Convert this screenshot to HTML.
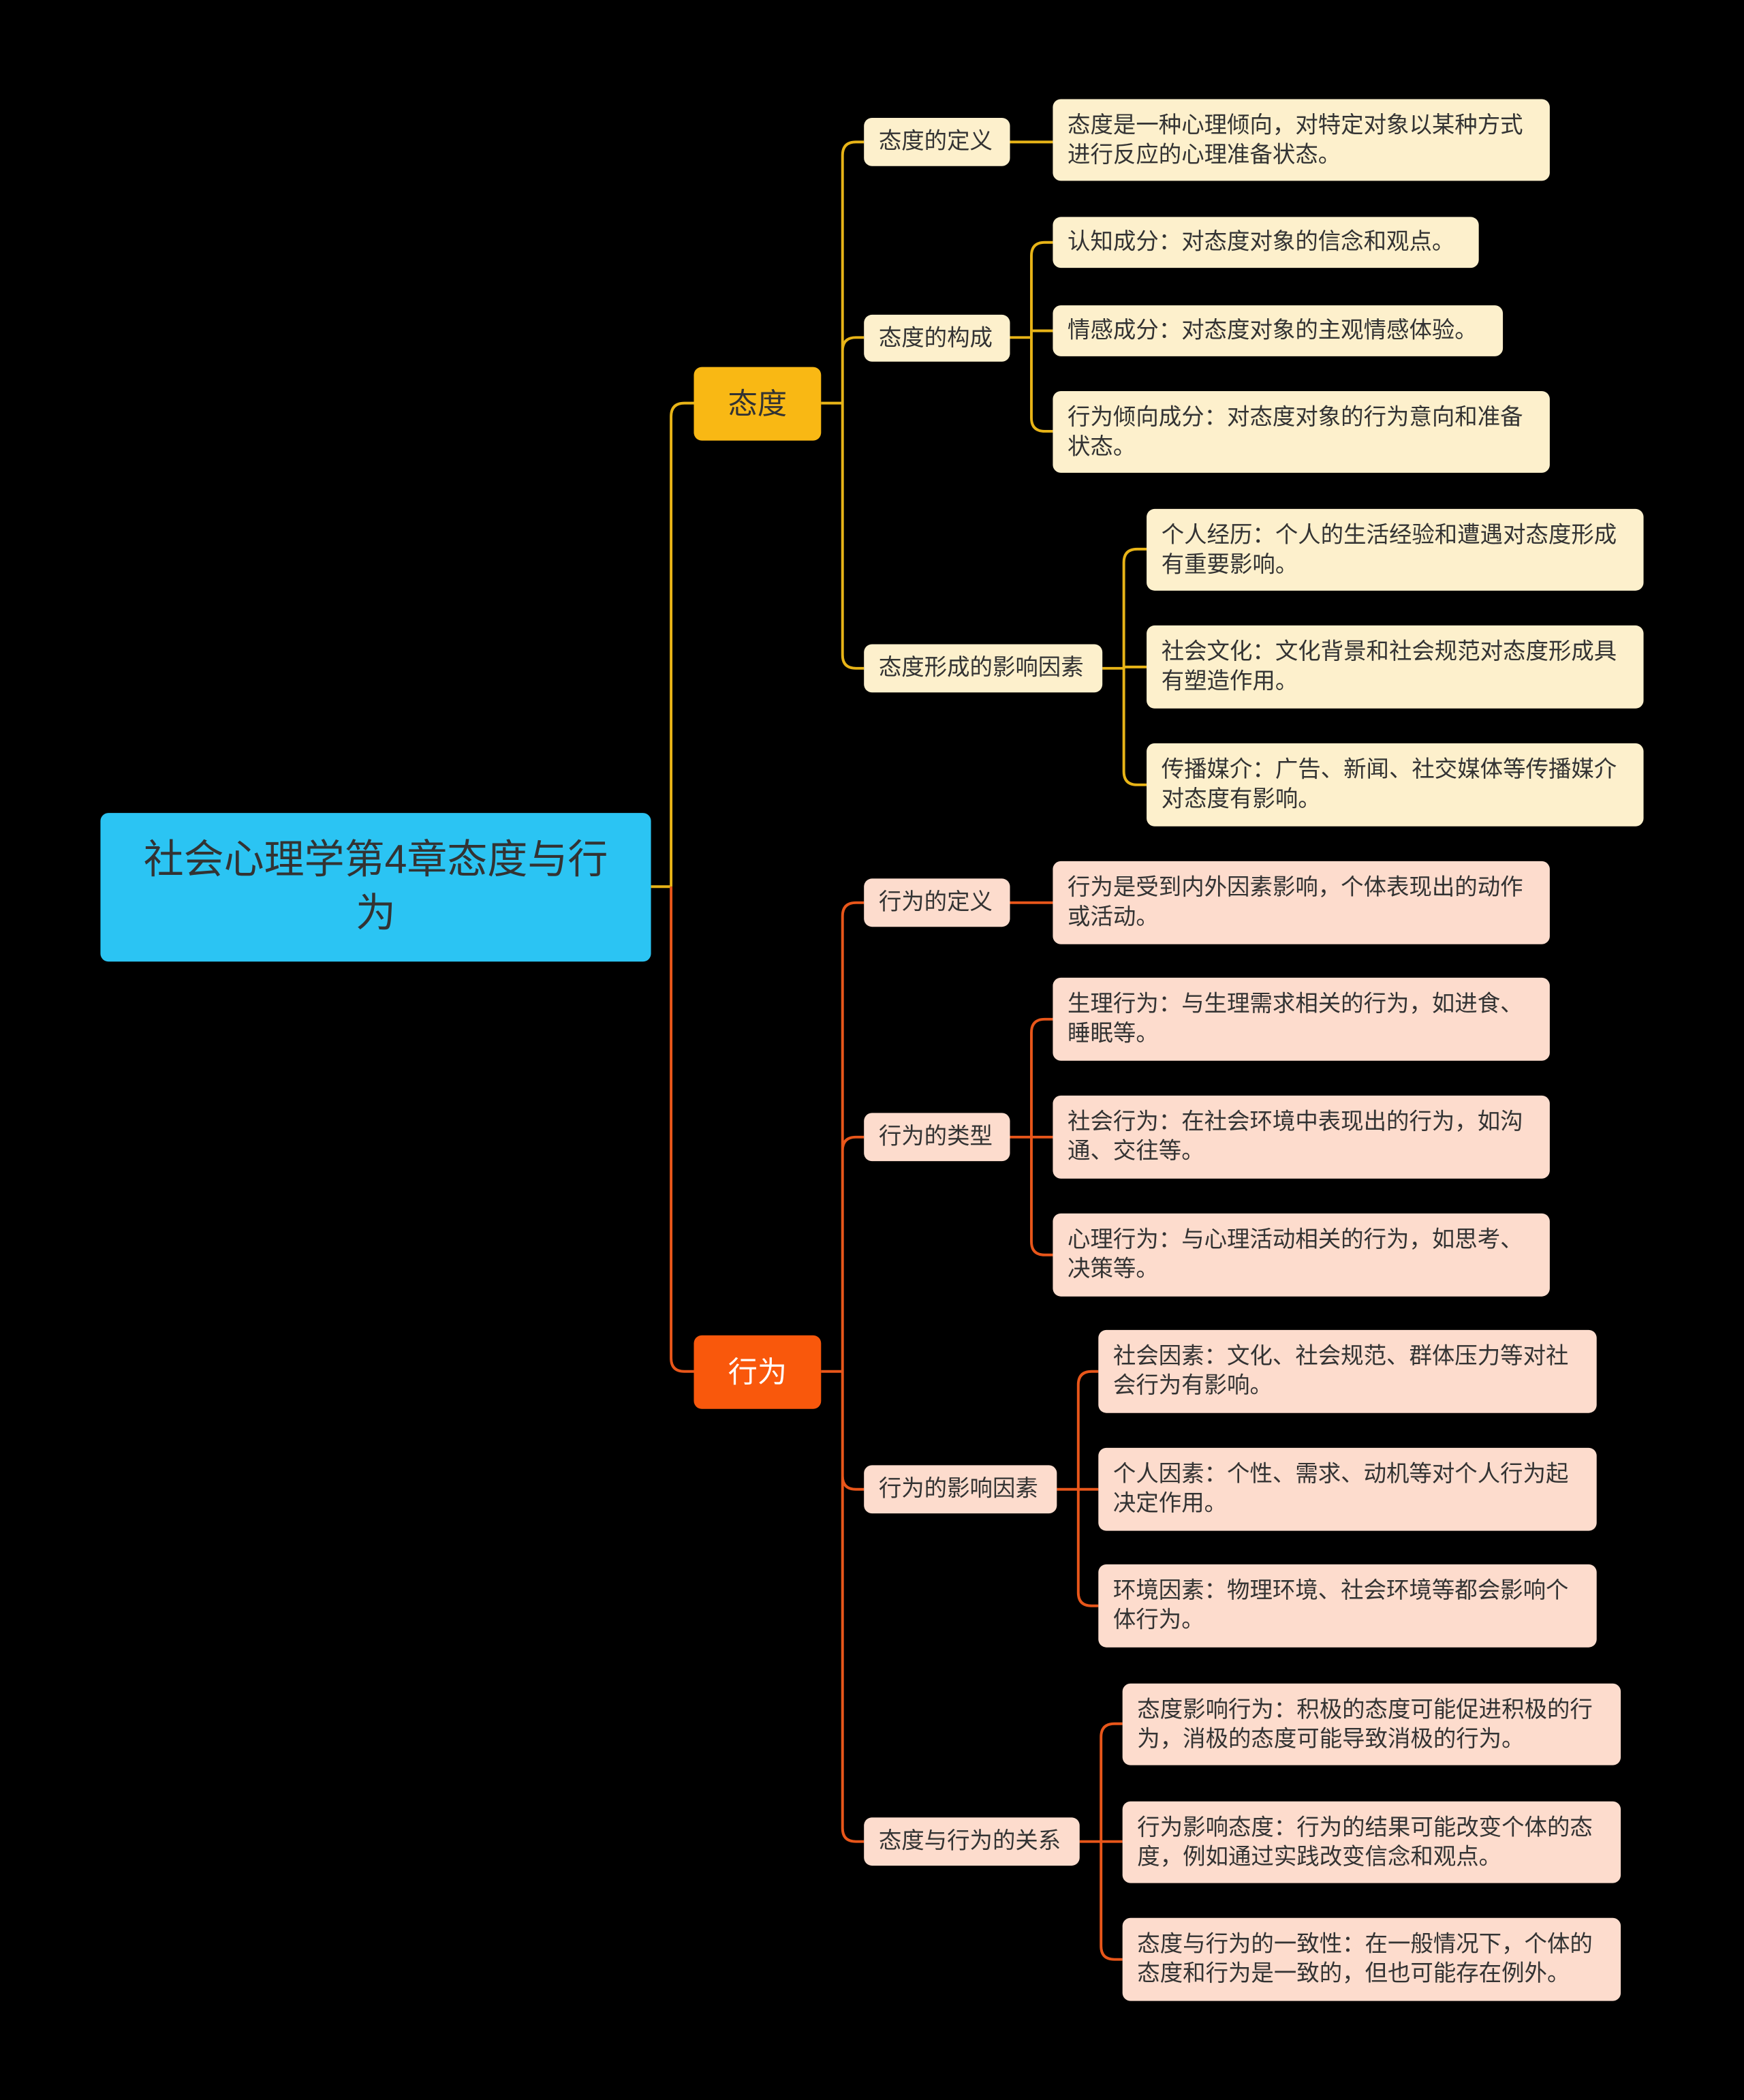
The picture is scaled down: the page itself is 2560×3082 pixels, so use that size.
<!DOCTYPE html>
<html><head><meta charset="utf-8"><style>
html,body{margin:0;padding:0;background:#000;width:2560px;height:3082px;overflow:hidden}
#w{position:absolute;left:0;top:0;width:1302px;height:1568px;transform:scale(1.9662,1.9656);transform-origin:0 0;font-family:"Liberation Sans","Noto Sans CJK SC",sans-serif}
.n{position:absolute;box-sizing:border-box;border-radius:6px;color:#333;font-size:17px;line-height:22px;display:flex;align-items:center;padding:0 11px}
.s{white-space:nowrap}
.y{background:#fdf0cc}.o{background:#fddccd}
.c{justify-content:center}
svg{position:absolute;left:0;top:0}
</style></head><body><div id="w">
<svg width="1302" height="1568" fill="none" stroke-width="2">
<g stroke="#e8b417">
<path d="M486 662H501M501 662V311Q501 301 511 301H518"/>
<path d="M613 301H629M629 301V116Q629 106 639 106H645M629 301V262Q629 252 639 252H645M629 301V489Q629 499 639 499H645"/>
<path d="M754 106H786"/>
<path d="M754 252H770M770 252V191Q770 181 780 181H786M770 252V247H786M770 252V312Q770 322 780 322H786"/>
<path d="M823 499H839M839 499V420Q839 410 849 410H856M839 499V498H856M839 499V576Q839 586 849 586H856"/>
</g>
<g stroke="#e8561a">
<path d="M501 662V1014Q501 1024 511 1024H518"/>
<path d="M613 1024H629M629 1024V684Q629 674 639 674H645M629 1024V859Q629 849 639 849H645M629 1024V1102Q629 1112 639 1112H645M629 1024V1365Q629 1375 639 1375H645"/>
<path d="M754 674H786"/>
<path d="M754 849H770M770 849V771Q770 761 780 761H786M770 849H786M770 849V927Q770 937 780 937H786"/>
<path d="M789 1112H805M805 1112V1034Q805 1024 815 1024H820M805 1112H820M805 1112V1189Q805 1199 815 1199H820"/>
<path d="M806 1375H822M822 1375V1297Q822 1287 832 1287H838M822 1375H838M822 1375V1453Q822 1463 832 1463H838"/>
</g>
</svg>
<div class="n c" style="left:75px;top:607px;width:411px;height:111px;background:#2bc4f3;font-size:30px;line-height:40px;text-align:center;border-radius:6px">社会心理学第4章态度与行<br>为</div>
<div class="n c s" style="left:518px;top:274px;width:95px;height:55px;background:#f9b814;font-size:22px">态度</div>
<div class="n c s" style="left:518px;top:997px;width:95px;height:55px;background:#f9580c;font-size:22px;color:#fff">行为</div>

<div class="n y s" style="left:645px;top:88px;width:109px;height:36px">态度的定义</div>
<div class="n y s" style="left:645px;top:235px;width:109px;height:35px">态度的构成</div>
<div class="n y s" style="left:645px;top:481px;width:178px;height:36px">态度形成的影响因素</div>
<div class="n y" style="left:786px;top:74px;width:371px;height:61px">态度是一种心理倾向，对特定对象以某种方式进行反应的心理准备状态。</div>
<div class="n y s" style="left:786px;top:162px;width:318px;height:38px">认知成分：对态度对象的信念和观点。</div>
<div class="n y s" style="left:786px;top:228px;width:336px;height:38px">情感成分：对态度对象的主观情感体验。</div>
<div class="n y" style="left:786px;top:292px;width:371px;height:61px">行为倾向成分：对态度对象的行为意向和准备状态。</div>
<div class="n y" style="left:856px;top:380px;width:371px;height:61px">个人经历：个人的生活经验和遭遇对态度形成有重要影响。</div>
<div class="n y" style="left:856px;top:467px;width:371px;height:62px">社会文化：文化背景和社会规范对态度形成具有塑造作用。</div>
<div class="n y" style="left:856px;top:555px;width:371px;height:62px">传播媒介：广告、新闻、社交媒体等传播媒介对态度有影响。</div>

<div class="n o s" style="left:645px;top:656px;width:109px;height:36px">行为的定义</div>
<div class="n o s" style="left:645px;top:831px;width:109px;height:36px">行为的类型</div>
<div class="n o s" style="left:645px;top:1094px;width:144px;height:36px">行为的影响因素</div>
<div class="n o s" style="left:645px;top:1357px;width:161px;height:36px">态度与行为的关系</div>
<div class="n o" style="left:786px;top:643px;width:371px;height:62px">行为是受到内外因素影响，个体表现出的动作或活动。</div>
<div class="n o" style="left:786px;top:730px;width:371px;height:62px">生理行为：与生理需求相关的行为，如进食、睡眠等。</div>
<div class="n o" style="left:786px;top:818px;width:371px;height:62px">社会行为：在社会环境中表现出的行为，如沟通、交往等。</div>
<div class="n o" style="left:786px;top:906px;width:371px;height:62px">心理行为：与心理活动相关的行为，如思考、决策等。</div>
<div class="n o" style="left:820px;top:993px;width:372px;height:62px">社会因素：文化、社会规范、群体压力等对社会行为有影响。</div>
<div class="n o" style="left:820px;top:1081px;width:372px;height:62px">个人因素：个性、需求、动机等对个人行为起决定作用。</div>
<div class="n o" style="left:820px;top:1168px;width:372px;height:62px">环境因素：物理环境、社会环境等都会影响个体行为。</div>
<div class="n o" style="left:838px;top:1257px;width:372px;height:61px">态度影响行为：积极的态度可能促进积极的行为，消极的态度可能导致消极的行为。</div>
<div class="n o" style="left:838px;top:1345px;width:372px;height:61px">行为影响态度：行为的结果可能改变个体的态度，例如通过实践改变信念和观点。</div>
<div class="n o" style="left:838px;top:1432px;width:372px;height:62px">态度与行为的一致性：在一般情况下，个体的态度和行为是一致的，但也可能存在例外。</div>
</div></body></html>
